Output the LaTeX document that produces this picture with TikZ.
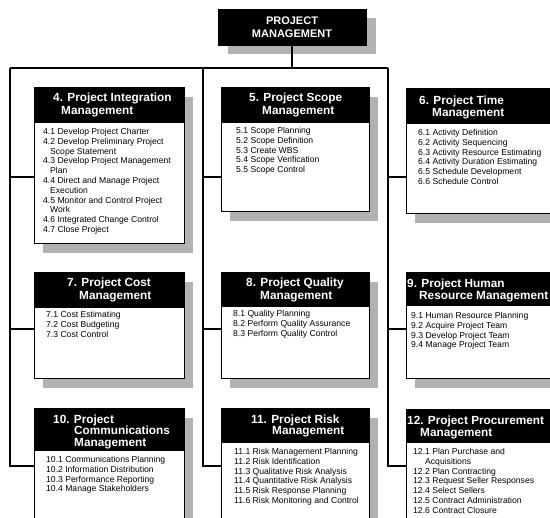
\documentclass[tikz,border=0pt]{standalone}
\usepackage{fontspec}
\setmainfont{Liberation Sans}
\usetikzlibrary{shadows}

\begin{document}
\begin{tikzpicture}[x=1pt, y=-1pt,
    bus/.style={line width=1.5pt},
    pmshadow/.style={drop shadow={shadow xshift=9pt, shadow yshift=-9.5pt, fill=black!30, opacity=1}},
    pmbody/.style={draw=black, fill=white, line width=0.8pt, anchor=north west, inner sep=0pt, pmshadow},
    pmhead/.style={draw=black, fill=black, line width=0.8pt, anchor=north west, inner sep=0pt},
    pmtitle/.style={text=white, align=left, anchor=north west, inner sep=0pt, font=\bfseries\fontsize{11.8}{12.3}\selectfont},
    pmitems/.style={align=left, anchor=north west, inner sep=0pt, font=\fontsize{8.6}{9.8}\selectfont}]
    % Page
    \useasboundingbox (0,0) rectangle (550,518);
    \clip (0,0) rectangle (550,518);

    % Top box
    \node[draw=black, fill=black, text=white, align=center, inner sep=0pt,
          minimum width=148pt, minimum height=36pt,
          drop shadow={shadow xshift=10pt, shadow yshift=-9pt, fill=black!30, opacity=1},
          font=\bfseries\fontsize{11}{13.5}\selectfont] (pm) at (292,27) {PROJECT\\MANAGEMENT};

    % Boxes (body first, header on top)
    \node[pmbody, minimum width=150pt, minimum height=156pt] (b4) at (34,87) {};
    \node[pmhead, minimum width=150pt, minimum height=35pt] (h4) at (b4.north west) {};
    \node[pmtitle, font=\bfseries\fontsize{11.8}{13.4}\selectfont] (t4) at (53,92.7) {4. Project Integration\\\hspace*{8pt}Management};
    \node[pmitems] (i4) at (43,128) {4.1 Develop Project Charter\\
        4.2 Develop Preliminary Project\\\hspace*{7pt}Scope Statement\\
        4.3 Develop Project Management\\\hspace*{7pt}Plan\\
        4.4 Direct and Manage Project\\\hspace*{7pt}Execution\\
        4.5 Monitor and Control Project\\\hspace*{7pt}Work\\
        4.6 Integrated Change Control\\
        4.7 Close Project};

    \node[pmbody, minimum width=148pt, minimum height=124pt] (b5) at (221,87) {};
    \node[pmhead, minimum width=148pt, minimum height=35pt] (h5) at (b5.north west) {};
    \node[pmtitle] (t5) at (249,93) {5. Project Scope\\\hspace*{13pt}Management};
    \node[pmitems] (i5) at (236,127) {5.1 Scope Planning\\5.2 Scope Definition\\5.3 Create WBS\\
        5.4 Scope Verification\\5.5 Scope Control};

    \node[pmbody, minimum width=150pt, minimum height=125pt] (b6) at (406,88) {};
    \node[pmhead, minimum width=150pt, minimum height=35pt] (h6) at (b6.north west) {};
    \node[pmtitle] (t6) at (419,95.7) {6. Project Time\\\hspace*{13pt}Management};
    \node[pmitems] (i6) at (418,129) {6.1 Activity Definition\\6.2 Activity Sequencing\\
        6.3 Activity Resource Estimating\\6.4 Activity Duration Estimating\\
        6.5 Schedule Development\\6.6 Schedule Control};

    \node[pmbody, minimum width=150pt, minimum height=106pt] (b7) at (34,272) {};
    \node[pmhead, minimum width=150pt, minimum height=35pt] (h7) at (b7.north west) {};
    \node[pmtitle] (t7) at (67,278) {7. Project Cost\\\hspace*{12pt}Management};
    \node[pmitems] (i7) at (46,311) {7.1 Cost Estimating\\7.2 Cost Budgeting\\7.3 Cost Control};

    \node[pmbody, minimum width=148pt, minimum height=106pt] (b8) at (221,272) {};
    \node[pmhead, minimum width=148pt, minimum height=34pt] (h8) at (b8.north west) {};
    \node[pmtitle] (t8) at (246,278) {8. Project Quality\\\hspace*{14pt}Management};
    \node[pmitems] (i8) at (233,310) {8.1 Quality Planning\\8.2 Perform Quality Assurance\\
        8.3 Perform Quality Control};

    \node[pmbody, minimum width=150pt, minimum height=106pt] (b9) at (406,272) {};
    \node[pmhead, minimum width=150pt, minimum height=33pt] (h9) at (b9.north west) {};
    \node[pmtitle] (t9) at (407,278.5) {9. Project Human\\\hspace*{12pt}Resource Management};
    \node[pmitems] (i9) at (411,312) {9.1 Human Resource Planning\\9.2 Acquire Project Team\\
        9.3 Develop Project Team\\9.4 Manage Project Team};

    \node[pmbody, minimum width=150pt, minimum height=130pt] (b10) at (34,408) {};
    \node[pmhead, minimum width=150pt, minimum height=42pt] (h10) at (b10.north west) {};
    \node[pmtitle, font=\bfseries\fontsize{11.8}{11.5}\selectfont] (t10) at (53,414.7) {10. Project\\\hspace*{21pt}Communications\\\hspace*{21pt}Management};
    \node[pmitems] (i10) at (46,456) {10.1 Communications Planning\\10.2 Information Distribution\\
        10.3 Performance Reporting\\10.4 Manage Stakeholders};

    \node[pmbody, minimum width=148pt, minimum height=130pt] (b11) at (221,408) {};
    \node[pmhead, minimum width=148pt, minimum height=34pt] (h11) at (b11.north west) {};
    \node[pmtitle, font=\bfseries\fontsize{11.8}{11.5}\selectfont] (t11) at (251,414.7) {11. Project Risk\\\hspace*{21pt}Management};
    \node[pmitems] (i11) at (234,448) {11.1 Risk Management Planning\\11.2 Risk Identification\\
        11.3 Qualitative Risk Analysis\\11.4 Quantitative Risk Analysis\\
        11.5 Risk Response Planning\\11.6 Risk Monitoring and Control};

    \node[pmbody, minimum width=150pt, minimum height=130pt] (b12) at (406,409) {};
    \node[pmhead, minimum width=150pt, minimum height=33pt] (h12) at (b12.north west) {};
    \node[pmtitle] (t12) at (407,415.7) {12. Project Procurement\\\hspace*{13pt}Management};
    \node[pmitems] (i12) at (413,448) {12.1 Plan Purchase and\\\hspace*{12pt}Acquisitions\\
        12.2 Plan Contracting\\12.3 Request Seller Responses\\12.4 Select Sellers\\
        12.5 Contract Administration\\12.6 Contract Closure};

    % Bus lines
    \coordinate (top) at (292,68);
    \coordinate (col1) at (10,68);
    \coordinate (col2) at (203,68);
    \coordinate (col3) at (388,68);
    \draw[bus] (pm.south) -- (top);
    \draw[bus] (col1) -- (col3);
    \foreach \c/\ra/\rb/\rc in {col1/b4/b7/b10, col2/b5/b8/b11, col3/b6/b9/b12} {
        \draw[bus] (\c) -- (\c |- 0,466) -- (\rc.west |- 0,466);
        \draw[bus] (\c |- 0,177) -- (\ra.west |- 0,177);
        \draw[bus] (\c |- 0,329) -- (\rb.west |- 0,329);
    }
\end{tikzpicture}
\end{document}
